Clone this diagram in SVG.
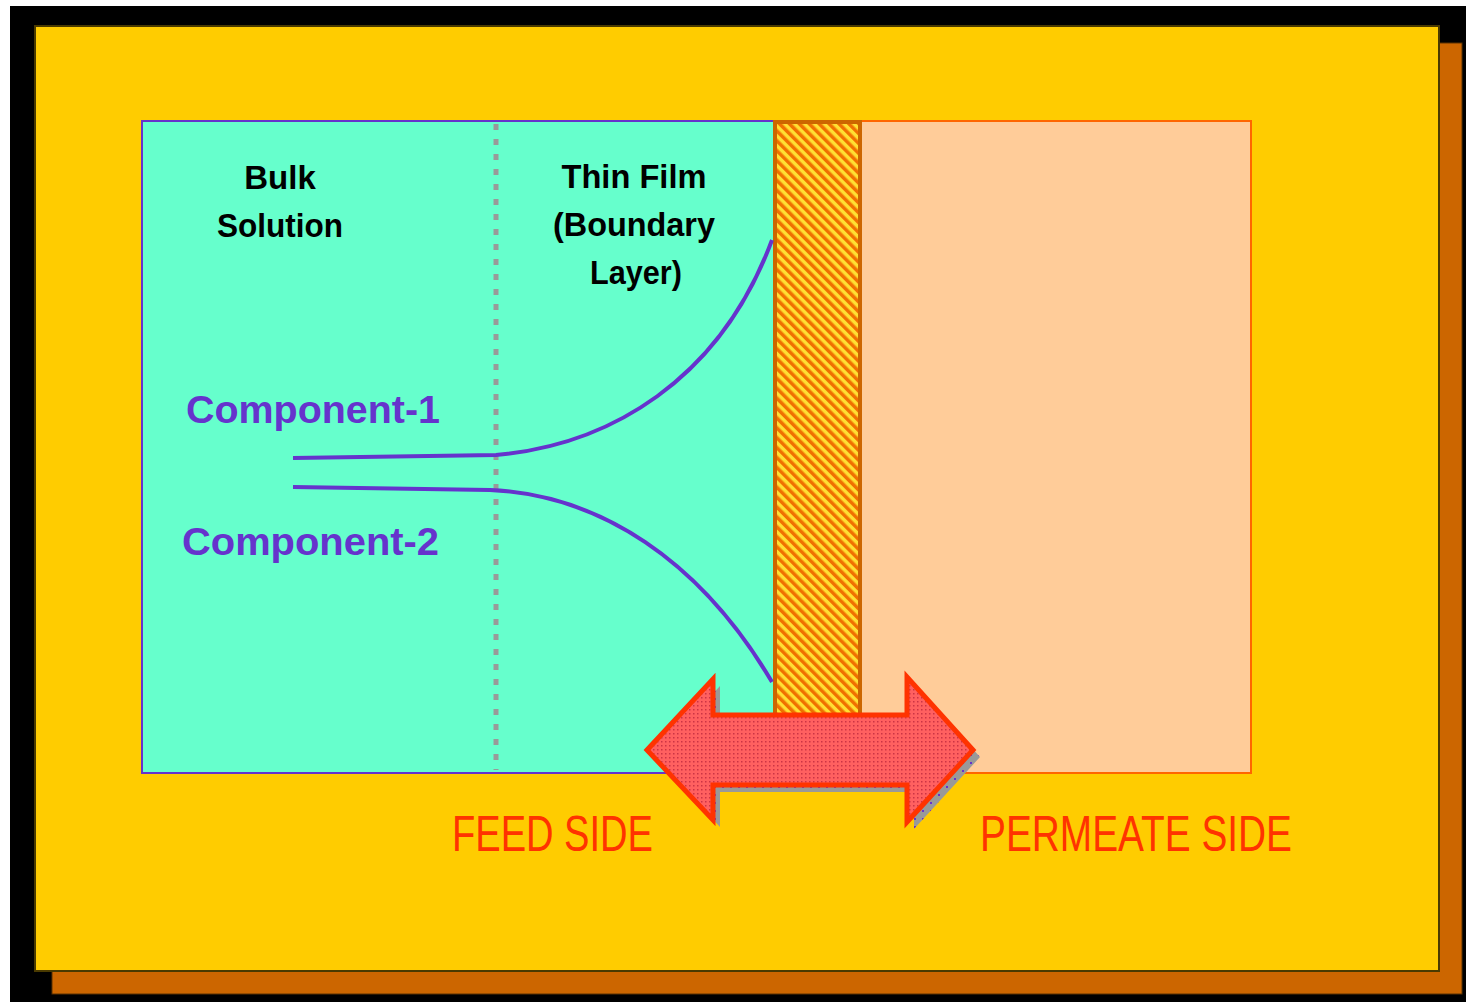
<svg xmlns="http://www.w3.org/2000/svg" width="1466" height="1002" viewBox="0 0 1466 1002">
  <defs>
    <pattern id="hatch" width="7" height="7" patternUnits="userSpaceOnUse" patternTransform="rotate(-45)">
      <rect width="7" height="7" fill="#FFE033"/>
      <rect width="3.5" height="7" fill="#F07000"/>
    </pattern>
    <pattern id="reddots" width="4" height="4" patternUnits="userSpaceOnUse">
      <rect width="4" height="4" fill="#FF6060"/>
      <rect x="1" y="1" width="1.5" height="1.5" fill="#CC3344"/>
    </pattern>
    <pattern id="graydots" width="8" height="8" patternUnits="userSpaceOnUse">
      <rect width="8" height="8" fill="#999999"/>
      <rect x="3" y="3" width="2" height="2" fill="#6633CC"/>
    </pattern>
    <path id="arrowShape" d="M647,750 L713,679 L713,715 L907,715 L907,677 L973,750 L907,822 L907,785 L713,785 L713,820 Z"/>
  </defs>
  <style>
    .title { font-family: "Liberation Sans", Arial, sans-serif; font-weight: bold; font-size: 33px; fill: #000000; text-anchor: middle; }
    .comp { font-family: "Liberation Sans", Arial, sans-serif; font-weight: bold; font-size: 38px; fill: #6633CC; }
    .side { font-family: "Liberation Sans", Arial, sans-serif; font-size: 50px; fill: #FF3300; }
    .curve { fill: none; stroke: #6633CC; stroke-width: 4; }
  </style>

  <g id="background">
    <rect x="0" y="0" width="1466" height="1002" fill="#FFFFFF"/>
    <rect x="10" y="6" width="1456" height="996" fill="#000000"/>
    <rect x="52" y="43" width="1410" height="951" fill="#CC6600" stroke="#5a3000" stroke-width="1"/>
    <rect x="35" y="26" width="1404" height="945" fill="#FFCC00" stroke="#4a3a00" stroke-width="2"/>
  </g>

  <g id="feed-side-box">
    <rect x="142" y="121" width="632" height="652" fill="#66FFCC" stroke="#6633CC" stroke-width="2"/>
  </g>

  <g id="permeate-side-box">
    <rect x="860" y="121" width="391" height="652" fill="#FFCC99" stroke="#FF6600" stroke-width="2"/>
  </g>

  <g id="membrane">
    <rect x="775" y="122" width="85" height="600" fill="url(#hatch)" stroke="#CC6600" stroke-width="4"/>
  </g>

  <g id="boundary-line">
    <line x1="496" y1="124" x2="496" y2="770" stroke="#999999" stroke-width="5" stroke-dasharray="6 9"/>
  </g>

  <g id="connectors">
    <path class="curve" d="M293,458 L496,455 C610,445 720,380 772,240"/>
    <path class="curve" d="M293,487 L490,490 C600,495 700,560 772,682"/>
  </g>

  <g id="label-bulk">
    <text class="title" x="280" y="189">Bulk</text>
    <text class="title" x="280" y="237" textLength="126" lengthAdjust="spacingAndGlyphs">Solution</text>
  </g>

  <g id="label-thin-film">
    <text class="title" x="634" y="188" textLength="145" lengthAdjust="spacingAndGlyphs">Thin Film</text>
    <text class="title" x="634" y="236" textLength="162" lengthAdjust="spacingAndGlyphs">(Boundary</text>
    <text class="title" x="636" y="284" textLength="92" lengthAdjust="spacingAndGlyphs">Layer)</text>
  </g>

  <g id="label-component-1">
    <text class="comp" x="186" y="423" textLength="254" lengthAdjust="spacingAndGlyphs">Component-1</text>
  </g>
  <g id="label-component-2">
    <text class="comp" x="182" y="555" textLength="257" lengthAdjust="spacingAndGlyphs">Component-2</text>
  </g>

  <g id="double-arrow">
    <use href="#arrowShape" transform="translate(7,7)" fill="url(#graydots)"/>
    <use href="#arrowShape" fill="url(#reddots)" stroke="#FF3300" stroke-width="5" stroke-linejoin="miter"/>
  </g>

  <g id="label-feed-side">
    <text class="side" x="452" y="851" textLength="201" lengthAdjust="spacingAndGlyphs">FEED SIDE</text>
  </g>
  <g id="label-permeate-side">
    <text class="side" x="980" y="851" textLength="312" lengthAdjust="spacingAndGlyphs">PERMEATE SIDE</text>
  </g>
</svg>
